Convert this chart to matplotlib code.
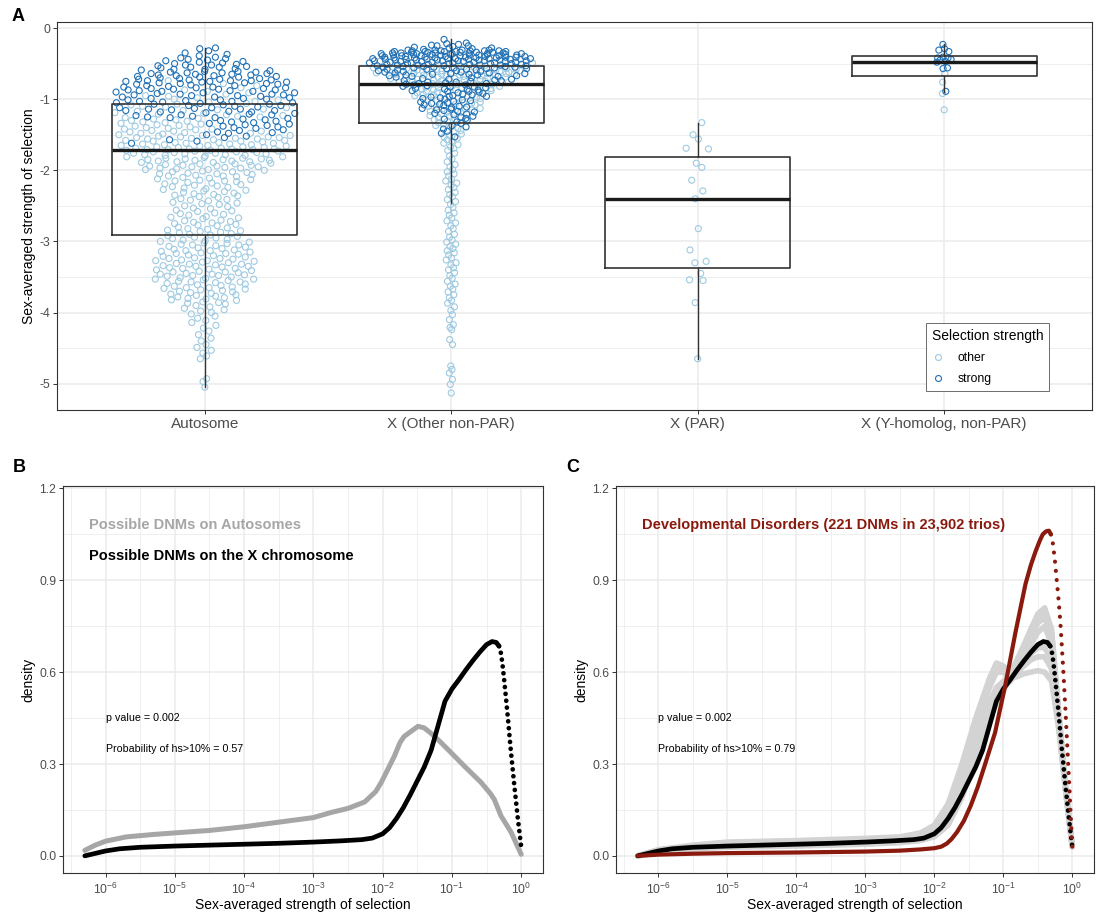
import numpy as np
import matplotlib
matplotlib.use("Agg")
import matplotlib.pyplot as plt
from matplotlib.lines import Line2D
from matplotlib.ticker import FixedLocator, NullFormatter

plt.rcParams["font.family"] = ["Liberation Sans", "DejaVu Sans"]
plt.rcParams["mathtext.fontset"] = "custom"
plt.rcParams["mathtext.rm"] = "Liberation Sans"
plt.rcParams["mathtext.default"] = "regular"
plt.rcParams["axes.unicode_minus"] = False

# ---------------- panel A: per-gene selection (log10 scale) ----------------
categories = ["Autosome", "X (Other non-PAR)", "X (PAR)", "X (Y-homolog, non-PAR)"]

auto_strong = [
    -0.28, -0.29, -0.32, -0.35, -0.37, -0.39,
    -0.41, -0.42, -0.43, -0.44, -0.45, -0.46, -0.47, -0.48, -0.49,
    -0.50, -0.51, -0.52, -0.52, -0.53, -0.54, -0.55, -0.55, -0.56, -0.57, -0.58, -0.58, -0.59, -0.60,
    -0.61, -0.61, -0.62, -0.62, -0.63, -0.63, -0.64, -0.64, -0.65, -0.65, -0.66, -0.66, -0.67, -0.67,
    -0.68, -0.68, -0.69, -0.69, -0.70,
    -0.71, -0.71, -0.72, -0.72, -0.73, -0.73, -0.74, -0.74, -0.74, -0.75, -0.75, -0.76, -0.76, -0.77,
    -0.77, -0.78, -0.78, -0.79, -0.79, -0.80,
    -0.81, -0.81, -0.82, -0.83, -0.83, -0.84, -0.84, -0.85, -0.85, -0.86, -0.86, -0.87, -0.87, -0.88,
    -0.88, -0.89, -0.89, -0.90,
    -0.91, -0.91, -0.92, -0.93, -0.93, -0.94, -0.94, -0.95, -0.95, -0.96, -0.97, -0.97, -0.98, -0.99,
    -0.99, -1.00,
    -1.01, -1.01, -1.02, -1.03, -1.03, -1.04, -1.05, -1.05, -1.06, -1.07, -1.07, -1.08, -1.09, -1.09, -1.10,
    -1.11, -1.12, -1.12, -1.13, -1.14, -1.14, -1.15, -1.16, -1.16, -1.17, -1.18, -1.18, -1.19, -1.20,
    -1.21, -1.22, -1.22, -1.23, -1.24, -1.25, -1.26, -1.26, -1.27, -1.28, -1.29, -1.30,
    -1.31, -1.32, -1.33, -1.34, -1.35, -1.36, -1.37, -1.38, -1.39, -1.40,
    -1.41, -1.43, -1.44, -1.46, -1.47, -1.48, -1.50,
    -1.52, -1.54, -1.57, -1.59, -1.62,
]

auto_other = [
    -0.74, -0.78, -0.81, -0.84, -0.87, -0.89,
    -0.91, -0.93, -0.95, -0.96, -0.98, -1.00,
    -1.01, -1.03, -1.04, -1.06, -1.07, -1.08, -1.10,
    -1.11, -1.12, -1.14, -1.15, -1.16, -1.17, -1.19, -1.20,
    -1.21, -1.22, -1.23, -1.24, -1.25, -1.26, -1.27, -1.28, -1.29, -1.30,
    -1.31, -1.32, -1.33, -1.34, -1.35, -1.36, -1.37, -1.38, -1.39, -1.40,
    -1.41, -1.42, -1.42, -1.43, -1.44, -1.45, -1.45, -1.46, -1.47, -1.48, -1.48, -1.49, -1.50,
    -1.51, -1.51, -1.52, -1.53, -1.53, -1.54, -1.54, -1.55, -1.55, -1.56, -1.56, -1.57, -1.58, -1.58,
    -1.59, -1.59, -1.60,
    -1.61, -1.61, -1.62, -1.62, -1.63, -1.63, -1.64, -1.64, -1.65, -1.65, -1.66, -1.66, -1.67, -1.67,
    -1.68, -1.68, -1.69, -1.69, -1.70, -1.70, -1.70,
    -1.71, -1.71, -1.71, -1.72, -1.72, -1.73, -1.73, -1.74, -1.74, -1.75, -1.75, -1.76, -1.76, -1.77,
    -1.77, -1.78, -1.78, -1.79, -1.79, -1.80,
    -1.81, -1.81, -1.82, -1.83, -1.83, -1.84, -1.84, -1.85, -1.85, -1.86, -1.86, -1.87, -1.87, -1.88,
    -1.88, -1.89, -1.89, -1.90,
    -1.91, -1.91, -1.92, -1.93, -1.93, -1.94, -1.94, -1.95, -1.95, -1.96, -1.97, -1.97, -1.98, -1.99,
    -1.99, -2.00,
    -2.01, -2.02, -2.02, -2.03, -2.04, -2.05, -2.05, -2.06, -2.07, -2.08, -2.08, -2.09, -2.10,
    -2.11, -2.12, -2.13, -2.14, -2.15, -2.15, -2.16, -2.17, -2.18, -2.19, -2.20,
    -2.21, -2.22, -2.23, -2.24, -2.25, -2.26, -2.27, -2.28, -2.29, -2.30,
    -2.31, -2.32, -2.33, -2.34, -2.35, -2.36, -2.37, -2.38, -2.40,
    -2.41, -2.42, -2.43, -2.45, -2.46, -2.47, -2.48, -2.50,
    -2.51, -2.53, -2.54, -2.56, -2.57, -2.58, -2.60,
    -2.61, -2.62, -2.63, -2.65, -2.66, -2.67, -2.68, -2.70,
    -2.71, -2.72, -2.73, -2.74, -2.75, -2.76, -2.77, -2.78, -2.80,
    -2.81, -2.82, -2.83, -2.84, -2.85, -2.86, -2.87, -2.88, -2.89, -2.90,
    -2.91, -2.92, -2.93, -2.94, -2.95, -2.96, -2.97, -2.98, -2.99, -3.00,
    -3.01, -3.02, -3.03, -3.04, -3.05, -3.05, -3.06, -3.07, -3.08, -3.09, -3.10,
    -3.11, -3.12, -3.13, -3.13, -3.14, -3.15, -3.16, -3.17, -3.17, -3.18, -3.19, -3.20,
    -3.21, -3.22, -3.23, -3.24, -3.24, -3.25, -3.26, -3.27, -3.27, -3.28, -3.29, -3.30,
    -3.31, -3.32, -3.32, -3.33, -3.34, -3.35, -3.35, -3.36, -3.37, -3.38, -3.38, -3.39, -3.40,
    -3.41, -3.42, -3.43, -3.43, -3.44, -3.45, -3.46, -3.46, -3.47, -3.48, -3.48, -3.49, -3.50,
    -3.51, -3.52, -3.53, -3.53, -3.54, -3.55, -3.56, -3.57, -3.57, -3.58, -3.59, -3.60,
    -3.61, -3.62, -3.63, -3.64, -3.65, -3.65, -3.66, -3.67, -3.68, -3.69, -3.70,
    -3.71, -3.72, -3.73, -3.74, -3.75, -3.76, -3.77, -3.78, -3.79, -3.80,
    -3.81, -3.82, -3.83, -3.85, -3.86, -3.87, -3.88, -3.90,
    -3.92, -3.94, -3.96, -3.98, -4.00,
    -4.02, -4.05, -4.08, -4.11, -4.14, -4.18, -4.22, -4.26, -4.31, -4.36, -4.40, -4.45, -4.49,
    -4.53, -4.57, -4.61, -4.65, -4.93, -4.97, -5.05,
]

xo_strong = [
    -0.16,
    -0.21, -0.22, -0.23, -0.24, -0.25, -0.25, -0.26, -0.27, -0.28, -0.28, -0.29, -0.30,
    -0.31, -0.31, -0.31, -0.31, -0.32, -0.32, -0.32, -0.32, -0.32, -0.33, -0.33, -0.33, -0.33, -0.33,
    -0.34, -0.34, -0.34, -0.34, -0.34, -0.35, -0.35, -0.35, -0.35, -0.35, -0.36, -0.36, -0.36, -0.36,
    -0.36, -0.37, -0.37, -0.37, -0.37, -0.37, -0.38, -0.38, -0.38, -0.38, -0.38, -0.39, -0.39, -0.39,
    -0.39, -0.39, -0.40, -0.40, -0.40, -0.40,
    -0.41, -0.41, -0.41, -0.41, -0.41, -0.42, -0.42, -0.42, -0.42, -0.42, -0.43, -0.43, -0.43, -0.43,
    -0.43, -0.44, -0.44, -0.44, -0.44, -0.44, -0.45, -0.45, -0.45, -0.45, -0.45, -0.46, -0.46, -0.46,
    -0.46, -0.46, -0.47, -0.47, -0.47, -0.47, -0.48, -0.48, -0.48, -0.48, -0.49, -0.49, -0.49, -0.49,
    -0.50, -0.50, -0.50, -0.50,
    -0.51, -0.51, -0.51, -0.51, -0.52, -0.52, -0.52, -0.52, -0.53, -0.53, -0.53, -0.54, -0.54, -0.54,
    -0.55, -0.55, -0.55, -0.56, -0.56, -0.56, -0.57, -0.57, -0.57, -0.58, -0.58, -0.58, -0.59, -0.59,
    -0.60, -0.60,
    -0.61, -0.61, -0.62, -0.62, -0.63, -0.63, -0.64, -0.64, -0.65, -0.65, -0.66, -0.66, -0.67, -0.67,
    -0.68, -0.68, -0.69, -0.70,
    -0.71, -0.72, -0.72, -0.73, -0.74, -0.74, -0.75, -0.76, -0.76, -0.77, -0.78, -0.78, -0.79, -0.80,
    -0.80,
    -0.81, -0.82, -0.83, -0.83, -0.84, -0.85, -0.86, -0.86, -0.87, -0.88, -0.89, -0.89, -0.90,
    -0.91, -0.92, -0.93, -0.94, -0.95, -0.96, -0.96, -0.97, -0.98, -0.99, -1.00,
    -1.01, -1.02, -1.03, -1.04, -1.05, -1.06, -1.07, -1.08, -1.09, -1.10,
    -1.11, -1.12, -1.13, -1.14, -1.15, -1.16, -1.17, -1.18, -1.20,
    -1.21, -1.22, -1.24, -1.25, -1.27, -1.28, -1.30,
    -1.32, -1.34, -1.37, -1.39, -1.42, -1.45, -1.48, -1.53,
]

xo_other = [
    -0.44, -0.47, -0.49,
    -0.51, -0.52, -0.53, -0.54, -0.55, -0.55, -0.56, -0.57, -0.57, -0.58, -0.58, -0.59, -0.59, -0.60,
    -0.60, -0.61, -0.61, -0.62, -0.62, -0.62, -0.63, -0.63, -0.63, -0.64, -0.64, -0.64, -0.65, -0.65,
    -0.65, -0.66, -0.66, -0.66, -0.67, -0.67, -0.68, -0.68, -0.69, -0.69, -0.70, -0.70,
    -0.71, -0.71, -0.72, -0.72, -0.73, -0.73, -0.74, -0.75, -0.75, -0.76, -0.76, -0.77, -0.78, -0.78,
    -0.79, -0.79, -0.80,
    -0.81, -0.82, -0.83, -0.84, -0.84, -0.85, -0.86, -0.87, -0.87, -0.88, -0.89, -0.90,
    -0.91, -0.92, -0.93, -0.94, -0.95, -0.96, -0.97, -0.98, -0.99,
    -1.01, -1.02, -1.04, -1.05, -1.06, -1.07, -1.08, -1.10,
    -1.11, -1.13, -1.14, -1.15, -1.17, -1.18, -1.19,
    -1.21, -1.23, -1.24, -1.26, -1.28, -1.29,
    -1.31, -1.33, -1.35, -1.37, -1.39, -1.41, -1.44, -1.46, -1.49,
    -1.51, -1.53, -1.55, -1.57, -1.59, -1.62, -1.64, -1.67, -1.69,
    -1.72, -1.76, -1.80, -1.84, -1.88, -1.92, -1.95, -1.99,
    -2.02, -2.05, -2.08, -2.12, -2.15, -2.18, -2.21, -2.24, -2.27, -2.31, -2.34, -2.37, -2.41, -2.44,
    -2.48,
    -2.52, -2.56, -2.60, -2.63, -2.67, -2.71, -2.74, -2.78, -2.82, -2.86, -2.90, -2.94, -2.98,
    -3.01, -3.04, -3.07, -3.10, -3.13, -3.16, -3.19, -3.23, -3.26, -3.30, -3.33, -3.37, -3.40, -3.44,
    -3.48,
    -3.52, -3.56, -3.60, -3.63, -3.67, -3.71, -3.75, -3.79, -3.83, -3.87, -3.92, -3.97,
    -4.03, -4.10, -4.17, -4.21, -4.24, -4.38, -4.45,
    -4.75, -4.80, -4.85, -4.94, -5.01, -5.13,
]

par_other = [
    -1.33, -1.50, -1.56, -1.69, -1.70, -1.90, -1.96, -2.14, -2.29, -2.40,
    -2.82, -3.12, -3.28, -3.30, -3.45, -3.54, -3.55, -3.86, -4.65,
]
par_strong = []

yh_strong = [-0.23, -0.29, -0.31, -0.33, -0.41, -0.42, -0.42, -0.44, -0.45, -0.47, -0.48, -0.56,
             -0.57, -0.89]
yh_other = [-0.64, -0.76, -0.92, -1.15]

# box statistics: lower whisker, Q1, median, Q3, upper whisker
box_whislo = [-5.05, -2.46, -4.65, -0.90]
box_q1 = [-2.91, -1.33, -3.38, -0.68]
box_med = [-1.71, -0.78, -2.40, -0.48]
box_q3 = [-1.07, -0.53, -1.81, -0.39]
box_whishi = [-0.28, -0.16, -1.34, -0.23]

# ---------------- panels B and C: densities over log10(hs) ----------------
# X chromosome (black) curve, shared by both panels
xchr_log = [-6.3, -6.15, -6.0, -5.8, -5.5, -5.0, -4.5, -4.0, -3.5, -3.0, -2.6, -2.3, -2.15, -2.0,
            -1.9, -1.8, -1.7, -1.6, -1.5, -1.4, -1.3, -1.2, -1.1, -1.0, -0.9, -0.8, -0.7, -0.6,
            -0.5, -0.42, -0.36, -0.32, -0.3, -0.275, -0.25, -0.2, -0.15, -0.1, -0.05, 0.0]
xchr_dens = [0.000, 0.008, 0.016, 0.023, 0.028, 0.032, 0.035, 0.038, 0.041, 0.045, 0.049, 0.053,
             0.058, 0.072, 0.092, 0.122, 0.158, 0.200, 0.245, 0.290, 0.345, 0.425, 0.505, 0.545,
             0.575, 0.607, 0.637, 0.665, 0.690, 0.700, 0.697, 0.685, 0.672, 0.635, 0.585, 0.470,
             0.345, 0.232, 0.125, 0.030]

auto_log = [-6.3, -6.15, -6.0, -5.7, -5.3, -5.0, -4.5, -4.0, -3.5, -3.0, -2.74, -2.5, -2.26, -2.1,
            -2.02, -1.92, -1.83, -1.75, -1.69, -1.6, -1.49, -1.4, -1.3, -1.18, -1.06, -0.82,
            -0.58, -0.45, -0.39, -0.29, -0.145, 0.0]
auto_dens = [0.018, 0.035, 0.048, 0.062, 0.070, 0.075, 0.083, 0.095, 0.110, 0.125, 0.142, 0.155,
             0.176, 0.210, 0.240, 0.285, 0.326, 0.370, 0.390, 0.405, 0.423, 0.418, 0.400, 0.375,
             0.348, 0.293, 0.240, 0.205, 0.185, 0.130, 0.077, 0.005]

dd_log = [-6.3, -6.0, -5.5, -5.0, -4.0, -3.0, -2.5, -2.2, -2.0, -1.9, -1.82, -1.75, -1.67, -1.57,
          -1.47, -1.37, -1.27, -1.2, -1.12, -1.05, -0.975, -0.9, -0.826, -0.75, -0.677, -0.6,
          -0.528, -0.47, -0.428, -0.38, -0.339, -0.31, -0.28, -0.25, -0.225, -0.2, -0.175, -0.15,
          -0.125, -0.1, -0.075, -0.05, -0.025, 0.0]
dd_dens = [0.000, 0.004, 0.007, 0.009, 0.011, 0.014, 0.017, 0.021, 0.025, 0.030, 0.040, 0.055,
           0.078, 0.115, 0.165, 0.225, 0.295, 0.345, 0.402, 0.475, 0.553, 0.640, 0.727, 0.810,
           0.889, 0.950, 0.997, 1.030, 1.050, 1.060, 1.062, 1.050, 1.019, 0.960, 0.900, 0.840,
           0.770, 0.680, 0.585, 0.480, 0.370, 0.260, 0.145, 0.030]

# resampled X-chromosome densities (grey band in panel C)
resample_log = [-6.3, -6.0, -5.5, -5.0, -4.0, -3.0, -2.5, -2.2, -2.0, -1.8, -1.6, -1.4, -1.2, -1.1,
                -1.0, -0.9, -0.8, -0.7, -0.6, -0.5, -0.4, -0.3, -0.2, -0.1, 0.0]
resample_dens = [
    [0.0, 0.020, 0.035, 0.045, 0.050, 0.057, 0.062, 0.075, 0.100, 0.170, 0.300, 0.450, 0.580,
     0.630, 0.620, 0.600, 0.630, 0.680, 0.740, 0.790, 0.810, 0.740, 0.480, 0.240, 0.030],
    [0.0, 0.018, 0.030, 0.040, 0.045, 0.050, 0.055, 0.068, 0.090, 0.150, 0.270, 0.420, 0.550,
     0.600, 0.600, 0.580, 0.585, 0.595, 0.600, 0.605, 0.600, 0.570, 0.420, 0.220, 0.030],
    [0.0, 0.010, 0.022, 0.028, 0.032, 0.038, 0.043, 0.050, 0.062, 0.100, 0.190, 0.320, 0.440,
     0.500, 0.540, 0.580, 0.620, 0.670, 0.720, 0.760, 0.780, 0.710, 0.470, 0.230, 0.030],
    [0.0, 0.015, 0.028, 0.035, 0.040, 0.046, 0.052, 0.062, 0.080, 0.140, 0.250, 0.390, 0.500,
     0.550, 0.570, 0.580, 0.600, 0.630, 0.660, 0.680, 0.680, 0.640, 0.450, 0.220, 0.030],
    [0.0, 0.012, 0.025, 0.032, 0.037, 0.042, 0.048, 0.058, 0.075, 0.125, 0.220, 0.350, 0.480,
     0.530, 0.550, 0.570, 0.600, 0.640, 0.690, 0.730, 0.750, 0.690, 0.460, 0.220, 0.030],
    [0.0, 0.020, 0.033, 0.042, 0.048, 0.054, 0.060, 0.072, 0.095, 0.160, 0.280, 0.430, 0.560,
     0.610, 0.610, 0.590, 0.600, 0.620, 0.640, 0.650, 0.650, 0.610, 0.430, 0.220, 0.030],
    [0.0, 0.012, 0.024, 0.030, 0.035, 0.040, 0.045, 0.054, 0.070, 0.115, 0.200, 0.330, 0.460,
     0.520, 0.560, 0.600, 0.640, 0.690, 0.740, 0.780, 0.800, 0.730, 0.480, 0.230, 0.030],
]

LIGHT = "#9ECAE1"
DARK = "#2171B5"
GRID = "#EBEBEB"
EDGE = "#333333"
TICKTXT = "#4D4D4D"
DD_RED = "#8B1A0E"


def van_der_corput(n, base=2):
    seq = np.zeros(n)
    for i in range(n):
        k, denom, v = i + 1, 1.0, 0.0
        while k:
            denom *= base
            k, r = divmod(k, base)
            v += r / denom
        seq[i] = v
    return seq


def quasirandom_offsets(y, width, adjust=0.5):
    # density-scaled van der Corput offsets, like ggbeeswarm's quasirandom
    y = np.asarray(y, dtype=float)
    n = len(y)
    if n < 2:
        return np.zeros(n)
    sd = y.std(ddof=1)
    iqr = np.subtract(*np.percentile(y, [75, 25]))
    spread = min(sd, iqr / 1.34) if iqr > 0 else sd
    bw = 0.9 * spread * n ** -0.2 * adjust
    dens = np.exp(-0.5 * ((y[:, None] - y[None, :]) / bw) ** 2).sum(axis=1)
    dens = dens / dens.max()
    ranks = np.argsort(np.argsort(y, kind="stable"), kind="stable")
    return (van_der_corput(n)[ranks] * 2 - 1) * dens * width


def style_axes(ax):
    ax.set_facecolor("white")
    for sp in ax.spines.values():
        sp.set_color(EDGE)
        sp.set_linewidth(0.8)
    ax.grid(True, which="major", color=GRID, lw=1.1)
    ax.grid(True, which="minor", color=GRID, lw=0.55)
    ax.set_axisbelow(True)
    ax.tick_params(which="major", length=2.8, width=0.7, color=EDGE, labelcolor=TICKTXT,
                   labelsize=8.8, pad=2)
    ax.tick_params(which="minor", length=0)


def draw_density(ax, logs, dens, color, lw, split=None, gap=1.5, z=3):
    xs = 10 ** np.asarray(logs)
    ys = np.asarray(dens)
    if split is None:
        ax.plot(xs, ys, color=color, lw=lw, solid_capstyle="round", solid_joinstyle="round",
                zorder=z)
        return
    head = np.asarray(logs) <= split
    tail = np.asarray(logs) >= split
    ax.plot(xs[head], ys[head], color=color, lw=lw, solid_capstyle="round",
            solid_joinstyle="round", zorder=z)
    ax.plot(xs[tail], ys[tail], color=color, lw=lw, ls=(0, (0.01, gap)),
            dash_capstyle="round", zorder=z)


fig = plt.figure(figsize=(11, 9.13), dpi=100)
W, H = 1100, 913

# ---------------- panel A ----------------
axA = fig.add_axes([57 / W, 1 - 410 / H, 1035 / W, 388 / H])
style_axes(axA)

groups = [
    (auto_other, auto_strong, 0.375),
    (xo_other, xo_strong, 0.34),
    (par_other, par_strong, 0.05),
    (yh_other, yh_strong, 0.045),
]
for pos, (other, strong, w) in enumerate(groups, start=1):
    vals = np.array(other + strong, dtype=float)
    off = quasirandom_offsets(vals, w)
    n_o = len(other)
    axA.scatter(pos + off[:n_o], vals[:n_o], s=19, facecolors="none", edgecolors=LIGHT,
                linewidths=0.8, zorder=3)
    if strong:
        axA.scatter(pos + off[n_o:], vals[n_o:], s=19, facecolors="none", edgecolors=DARK,
                    linewidths=0.8, zorder=4)

stats = [dict(whislo=a, q1=b, med=c, q3=d, whishi=e, fliers=[])
         for a, b, c, d, e in zip(box_whislo, box_q1, box_med, box_q3, box_whishi)]
bp = axA.bxp(stats, positions=range(1, len(categories) + 1), widths=0.75, showfliers=False,
             showcaps=False, manage_ticks=False,
             boxprops=dict(color=EDGE, lw=1.2),
             whiskerprops=dict(color=EDGE, lw=1.0),
             medianprops=dict(color="#1A1A1A", lw=2.4))
for key in ("boxes", "whiskers", "medians"):
    for art in bp[key]:
        art.set_zorder(5)

axA.set_xlim(0.4, 4.6)
axA.set_ylim(-5.37, 0.085)
axA.set_xticks(range(1, len(categories) + 1))
axA.set_xticklabels(categories, fontsize=11)
axA.set_yticks([0, -1, -2, -3, -4, -5])
axA.set_yticklabels(["0", "-1", "-2", "-3", "-4", "-5"])
axA.yaxis.set_minor_locator(FixedLocator([-4.5, -3.5, -2.5, -1.5, -0.5]))
axA.set_ylabel("Sex-averaged strength of selection", fontsize=10, labelpad=2.5)

handles = [
    Line2D([], [], ls="none", marker="o", ms=4.3, mfc="none", mec=LIGHT, mew=0.8, label="other"),
    Line2D([], [], ls="none", marker="o", ms=4.3, mfc="none", mec=DARK, mew=0.8, label="strong"),
]
leg = axA.legend(handles=handles, title="Selection strength", loc="upper left",
                 bbox_to_anchor=(0.840, 0.2235), frameon=True, fancybox=False,
                 edgecolor="#555555", framealpha=1, fontsize=8.8, title_fontsize=10,
                 alignment="left", borderpad=0.45, labelspacing=0.75, handletextpad=1.1,
                 handlelength=1.0, borderaxespad=0)
leg.get_frame().set_linewidth(0.6)
leg.set_zorder(10)

# ---------------- panels B and C ----------------
decades = list(range(-6, 1))


def setup_density_axes(ax):
    style_axes(ax)
    ax.set_xscale("log")
    ax.set_xlim(10 ** -6.615, 10 ** 0.315)
    ax.set_ylim(-0.056, 1.208)
    ax.set_xticks([10.0 ** k for k in decades])
    ax.set_xticklabels([f"$10^{{{k}}}$" for k in decades])
    ax.xaxis.set_minor_locator(FixedLocator([10 ** (k - 0.5) for k in decades]))
    ax.xaxis.set_minor_formatter(NullFormatter())
    ax.tick_params(axis="x", which="major", pad=3.5)
    ax.set_yticks([0, 0.3, 0.6, 0.9, 1.2])
    ax.set_yticklabels(["0.0", "0.3", "0.6", "0.9", "1.2"])
    ax.yaxis.set_minor_locator(FixedLocator([0.15, 0.45, 0.75, 1.05]))
    ax.set_xlabel("Sex-averaged strength of selection", fontsize=10, labelpad=0.5)
    ax.set_ylabel("density", fontsize=10, labelpad=2.5)


axB = fig.add_axes([63 / W, 1 - 873 / H, 480 / W, 387 / H])
setup_density_axes(axB)
draw_density(axB, auto_log, auto_dens, "#A6A6A6", 3.6, z=3)
draw_density(axB, xchr_log, xchr_dens, "black", 3.4, split=-0.32, gap=1.45, z=4)
tx = 10 ** -6.24
axB.text(tx, 1.08, "Possible DNMs on Autosomes", color="#A6A6A6", fontsize=10.5,
         fontweight="bold", va="center", ha="left")
axB.text(tx, 0.98, "Possible DNMs on the X chromosome", color="black", fontsize=10.5,
         fontweight="bold", va="center", ha="left")
axB.text(1e-6, 0.45, "p value = 0.002", fontsize=7.7, va="center", ha="left")
axB.text(1e-6, 0.35, "Probability of hs>10% = 0.57", fontsize=7.7, va="center", ha="left")

axC = fig.add_axes([616 / W, 1 - 873 / H, 478 / W, 387 / H])
setup_density_axes(axC)
for curve in resample_dens:
    draw_density(axC, resample_log, curve, "#D3D3D3", 4.0, z=2)
draw_density(axC, xchr_log, xchr_dens, "black", 3.4, split=-0.32, gap=1.45, z=4)
draw_density(axC, dd_log, dd_dens, DD_RED, 3.0, split=-0.31, gap=2.2, z=5)
axC.text(tx, 1.08, "Developmental Disorders (221 DNMs in 23,902 trios)", color=DD_RED,
         fontsize=10.5, fontweight="bold", va="center", ha="left")
axC.text(1e-6, 0.45, "p value = 0.002", fontsize=7.7, va="center", ha="left")
axC.text(1e-6, 0.35, "Probability of hs>10% = 0.79", fontsize=7.7, va="center", ha="left")

# panel tags
for tag, (px, py) in {"A": (12, 8), "B": (13, 459), "C": (566, 459)}.items():
    fig.text(px / W, 1 - py / H, tag, fontsize=13, fontweight="bold", va="top", ha="left")

fig.savefig("out.png", dpi=100)
